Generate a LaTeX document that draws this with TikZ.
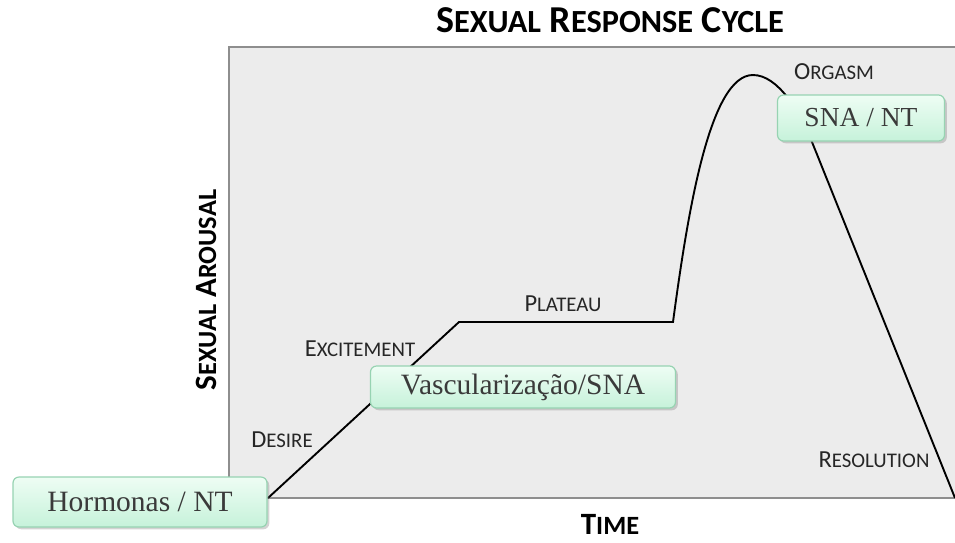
\documentclass[tikz,border=0pt]{standalone}
\usepackage{fontspec}
\setmainfont{Liberation Serif}
\newfontfamily\labfont{Carlito}
\usetikzlibrary{shadows}
\newcommand{\fsc}[2]{#1\scalebox{.85}{#2}}
\definecolor{panelgray}{HTML}{ECECEC}
\definecolor{framegray}{HTML}{8E8E8E}
\definecolor{notegreen}{HTML}{97D3B2}
\definecolor{notetop}{HTML}{EEFDF4}
\definecolor{notebottom}{HTML}{C6F2DA}
\definecolor{notetext}{HTML}{3A3A3A}
\tikzset{
  phase/.style={font=\labfont\fontsize{24.5}{24.5}\selectfont, text=black!85},
  axis/.style={font=\labfont\bfseries\fontsize{31}{31}\selectfont, inner sep=1pt},
  note/.style={draw=notegreen, line width=1.2pt, rounded corners=6pt,
    top color=notetop, bottom color=notebottom, drop shadow={opacity=.35},
    text=notetext, font=\fontsize{29.5}{29.5}\selectfont, inner sep=0pt, anchor=center},
  curve/.style={line width=1.9pt, black}
}
\begin{document}
\begin{tikzpicture}[x=1pt,y=-1pt]
\useasboundingbox (0,0) rectangle (955,542);
\draw[fill=panelgray, draw=framegray, line width=2.5pt] (229,47) rectangle (965,498);

\node(title) at (610,20)[font=\labfont\bfseries\fontsize{38}{38}\selectfont]{\fsc{S}{EXUAL} \fsc{R}{ESPONSE} \fsc{C}{YCLE}};
\node(time) at (610,524)[axis]{\fsc{T}{IME}};
\node(arousal) at (206,290)[axis,rotate=90]{\fsc{S}{EXUAL} \fsc{A}{ROUSAL}};

\node(desire) at (282,440)[phase]{\fsc{D}{ESIRE}};
\node(excite) at (360,349)[phase]{\fsc{E}{XCITEMENT}};
\node(plateau) at (563,304)[phase]{\fsc{P}{LATEAU}};
\node(orgasm) at (834,72)[phase]{\fsc{O}{RGASM}};
\node(resol) at (874,460)[phase]{\fsc{R}{ESOLUTION}};

\coordinate(start) at (268,498);
\coordinate(platA) at (459,322);
\coordinate(platB) at (673,322);
\coordinate(peak) at (753,75);
\coordinate(fall) at (812,142);
\coordinate(stop) at (955,498);

\draw[curve] (start) -- (platA) -- (platB)
  .. controls (688,210) and (710,75) .. (peak)
  .. controls (778,75) and (800,112) .. (fall) -- (stop);

\node(hormonas) at (140,502)[note, minimum width=254pt, minimum height=50pt]{Hormonas / NT};
\node(vasc) at (523,387)[note, minimum width=305pt, minimum height=42pt]{Vascularização/SNA};
\node(sna) at (861,118)[note, minimum width=167pt, minimum height=46pt, font=\fontsize{27.5}{27.5}\selectfont]{SNA / NT};

\end{tikzpicture}
\end{document}
